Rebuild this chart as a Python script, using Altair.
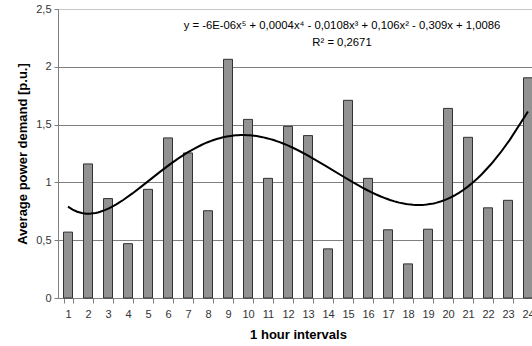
import altair as alt
import pandas as pd

hours = list(range(1, 25))
demand = [0.57, 1.16, 0.86, 0.47, 0.94, 1.385, 1.255, 0.755, 2.065, 1.545,
          1.035, 1.485, 1.405, 0.425, 1.71, 1.035, 0.59, 0.295, 0.595, 1.64,
          1.39, 0.78, 0.845, 1.905]
y_ticks = [0, 0.5, 1, 1.5, 2, 2.5]
eq_lines = ["y = -6E-06x\u2075 + 0,0004x\u2074 - 0,0108x\u00b3 + 0,106x\u00b2 - 0,309x + 1,0086",
            "R\u00b2 = 0,2671"]

df = pd.DataFrame({"hour": hours, "demand": demand})
FONT = "Liberation Sans"
yscale = alt.Scale(domain=[0, 2.5], nice=False)

bars = alt.Chart(df).mark_bar(color="#929292", stroke="#333333", strokeWidth=1).encode(
    x=alt.X("hour:O",
            scale=alt.Scale(paddingInner=0.55, paddingOuter=0.275, range=[0, 480]),
            axis=alt.Axis(title="1 hour intervals", labelAngle=0, tickBand="extent",
                          domainColor="#808080", tickColor="#808080", tickSize=5,
                          labelFontSize=11, labelColor="#333333", labelPadding=5,
                          labelFont=FONT, titleFont=FONT, titleFontSize=13,
                          titleFontWeight="bold", titlePadding=9, titleColor="#000000",
                          titleX=240)),
    y=alt.Y("demand:Q", scale=yscale,
            axis=alt.Axis(values=y_ticks, title="Average power demand [p.u.]",
                          labelExpr="replace(format(datum.value, '~g'), '.', ',')",
                          grid=True,
                          gridColor={"condition": {"test": "datum.value >= 2.5", "value": "#c8c8c8"},
                                     "value": "#808080"},
                          domainColor="#808080", tickColor="#808080", tickSize=4,
                          labelFontSize=11, labelColor="#333333", labelPadding=3,
                          labelFont=FONT, titleFont=FONT, titleFontSize=13,
                          titleFontWeight="bold", titlePadding=6, titleColor="#000000")),
)

trend = alt.Chart(df).transform_regression(
    "hour", "demand", method="poly", order=5, extent=[1, 24]
).mark_line(color="#000000", strokeWidth=2).encode(
    x=alt.X("hour:Q", scale=alt.Scale(domain=[0.5, 24.5], nice=False, zero=False, range=[0, 480]),
            axis=None),
    y=alt.Y("demand:Q", scale=yscale),
)

eq = alt.Chart(pd.DataFrame({"k": [0]})).mark_text(
    text=eq_lines, font=FONT, fontSize=11.3, color="#000000", align="center",
    baseline="middle", lineHeight=17
).encode(x=alt.value(284), y=alt.value(17))

chart = alt.layer(bars, trend, eq).resolve_scale(x="independent").properties(
    width=474, height=289,
    autosize=alt.AutoSizeParams(type="none"),
    padding={"left": 58, "top": 9, "right": 0, "bottom": 48},
).configure_view(stroke=None).configure(background="#ffffff")

chart.save("out.html", embed_options={"renderer": "svg", "actions": False})
